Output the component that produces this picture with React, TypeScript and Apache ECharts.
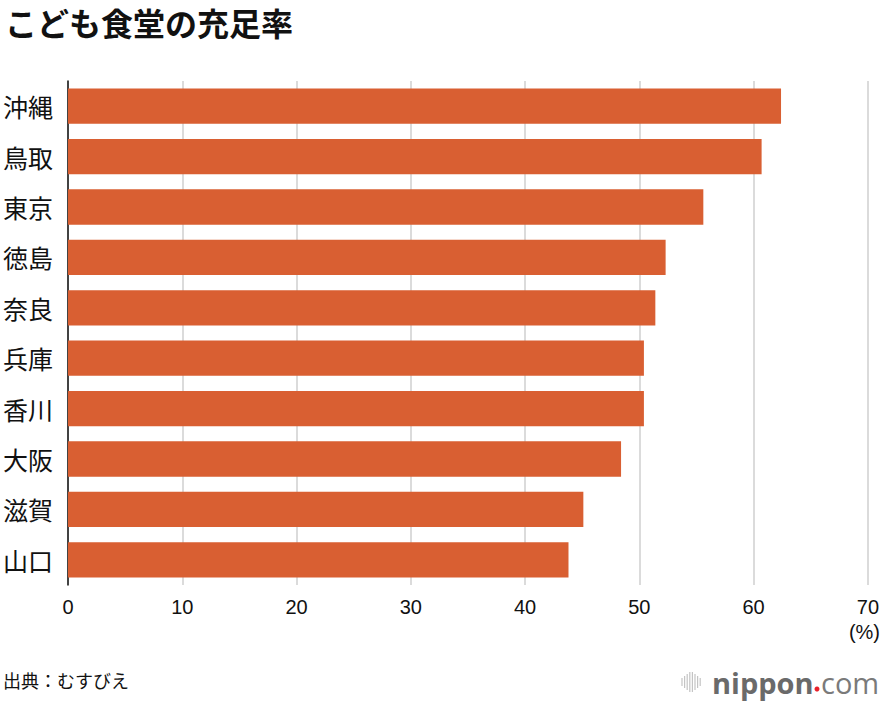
import React, { useEffect, useRef } from "react";
import * as echarts from "echarts";

const categories = ["沖縄", "鳥取", "東京", "徳島", "奈良", "兵庫", "香川", "大阪", "滋賀", "山口"];
const values = [62.4, 60.7, 55.6, 52.3, 51.4, 50.4, 50.4, 48.4, 45.1, 43.8];
const xTicks = [0, 10, 20, 30, 40, 50, 60, 70];

const FONT = "Helvetica, Arial, 'Liberation Sans', 'Noto Sans CJK JP', sans-serif";
const CJK = "'Noto Sans CJK JP', sans-serif";

const logoBars = [8, 12, 16, 20, 20, 16, 12, 8];

export default function App() {
  const ref = useRef<HTMLDivElement>(null);
  useEffect(() => {
    if (!ref.current) return;
    const chart = echarts.init(ref.current, null, { renderer: "svg" });
    const barEls: any[] = logoBars.map((h, i) => ({
      type: "line",
      shape: { x1: 682 + i * 2.6, y1: 682 - h / 2, x2: 682 + i * 2.6, y2: 682 + h / 2 },
      style: { stroke: "#c4c4c4", lineWidth: 1.2 },
    }));
    chart.setOption({
      animation: false,
      backgroundColor: "#fff",
      grid: { left: 67.5, right: 14, top: 81, bottom: 702 - 585, containLabel: false },
      xAxis: {
        type: "value",
        min: xTicks[0],
        max: xTicks[xTicks.length - 1],
        interval: 10,
        axisLine: { show: false },
        axisTick: { show: false },
        splitLine: { show: true, lineStyle: { color: "#cfcfcf", width: 1.5 } },
        axisLabel: {
          color: "#111",
          fontSize: 20,
          fontFamily: FONT,
          margin: 12,
          showMinLabel: true,
          showMaxLabel: true,
        },
      },
      yAxis: {
        type: "category",
        data: categories,
        inverse: true,
        axisLine: { show: true, lineStyle: { color: "#111", width: 1.5 } },
        axisTick: { show: false },
        axisLabel: {
          color: "#111",
          fontSize: 25,
          fontFamily: CJK,
          align: "left",
          margin: 65,
        },
      },
      series: [
        {
          type: "bar",
          data: values,
          barWidth: "70%",
          itemStyle: { color: "#d95f32" },
          silent: true,
        },
      ],
      graphic: [
        {
          type: "text",
          x: 5,
          y: 22,
          style: {
            text: "こども食堂の充足率",
            fontSize: 32,
            fontWeight: "bold",
            fontFamily: CJK,
            fill: "#111",
            verticalAlign: "middle",
          },
        },
        {
          type: "text",
          right: 2,
          top: 622,
          style: { text: "(%)", fontSize: 20, fontFamily: FONT, fill: "#111" },
        },
        {
          type: "text",
          left: 3,
          top: 671,
          style: { text: "出典：むすびえ", fontSize: 18, fontFamily: CJK, fill: "#111" },
        },
        { type: "group", children: barEls },
        {
          type: "text",
          x: 712,
          y: 682,
          style: {
            text: "nippon",
            fontSize: 29,
            fontWeight: "bold",
            fontFamily: "'Open Sans', sans-serif",
            fill: "#6a6a6a",
            verticalAlign: "middle",
          },
        },
        {
          type: "circle",
          shape: { cx: 817, cy: 689, r: 2.5 },
          style: { fill: "#e8202a" },
        },
        {
          type: "text",
          x: 821,
          y: 682,
          style: {
            text: "com",
            fontSize: 29,
            fontFamily: "'Open Sans', sans-serif",
            fontWeight: "normal",
            fill: "#7a7a7a",
            verticalAlign: "middle",
          },
        },
      ],
    });
    return () => chart.dispose();
  }, []);
  return <div ref={ref} style={{ width: 882, height: 702, position: "absolute", left: 0, top: 0 }} />;
}
